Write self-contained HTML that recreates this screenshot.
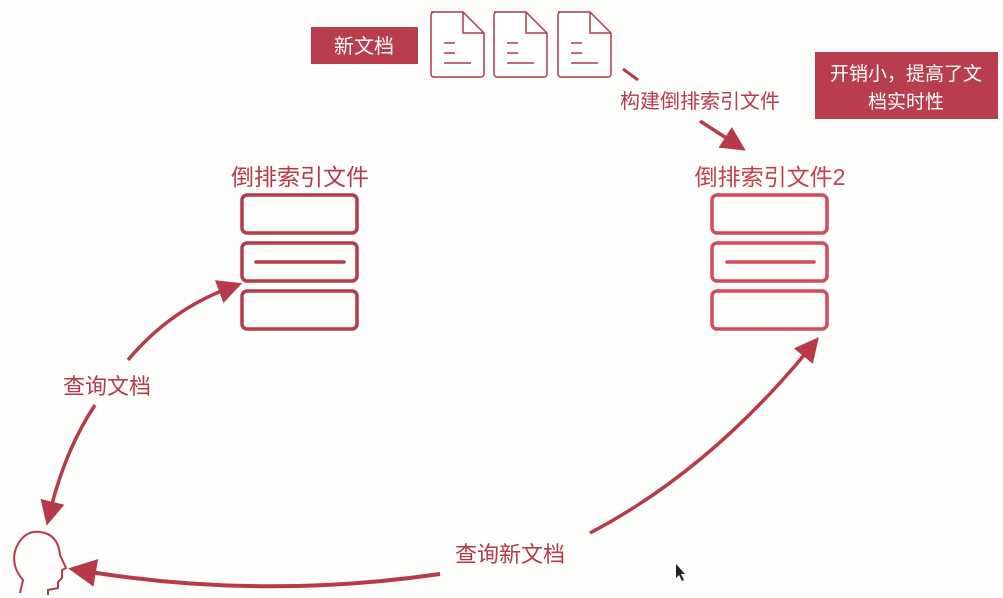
<!DOCTYPE html>
<html><head><meta charset="utf-8"><style>
body{margin:0;background:#fdfdfc;width:1003px;height:598px;overflow:hidden;font-family:"Liberation Sans","Noto Sans CJK SC",sans-serif}
</style></head><body>
<svg width="1003" height="598" viewBox="0 0 1003 598" xmlns="http://www.w3.org/2000/svg" style="position:absolute;left:0;top:0">
<defs>
<marker id="ah" markerWidth="7" markerHeight="7" refX="3" refY="3.5" orient="auto" markerUnits="strokeWidth"><path d="M0,0 L7,3.5 L0,7 z" fill="#b73a4b"/></marker>
</defs>
<rect x="311" y="27" width="107" height="37" fill="#b83d4d"/>
<text x="364" y="53" font-size="20" fill="#fff" text-anchor="middle">新文档</text>
<g fill="#fff" stroke="#b03848" stroke-width="1.5">
<path d="M431,12 h32 l21,21 v41 a3,3 0 0 1 -3,3 h-47 a3,3 0 0 1 -3,-3 v-59 a3,3 0 0 1 3,-3z"/>
<path d="M494,12 h32 l21,21 v41 a3,3 0 0 1 -3,3 h-47 a3,3 0 0 1 -3,-3 v-59 a3,3 0 0 1 3,-3z"/>
<path d="M558,12 h32 l21,21 v41 a3,3 0 0 1 -3,3 h-47 a3,3 0 0 1 -3,-3 v-59 a3,3 0 0 1 3,-3z"/>
<path d="M463,12 v21 h21 M526,12 v21 h21 M590,12 v21 h21" fill="none"/>
<path d="M444,43h11M444,53h11M444,63h27" fill="none"/>
<path d="M507,43h11M507,53h11M507,63h27" fill="none"/>
<path d="M571,43h11M571,53h11M571,63h27" fill="none"/>
</g>
<rect x="815" y="52" width="183" height="67" fill="#b83d4d"/>
<text x="906" y="80" font-size="19" fill="#fff" text-anchor="middle">开销小，提高了文</text>
<text x="906" y="108" font-size="19" fill="#fff" text-anchor="middle">档实时性</text>
<line x1="623" y1="69" x2="638" y2="80" stroke="#b73a4b" stroke-width="3"/>
<text x="700" y="108" font-size="20" fill="#b73a4b" text-anchor="middle">构建倒排索引文件</text>
<line x1="700" y1="121" x2="734" y2="143" stroke="#b73a4b" stroke-width="3.5" marker-end="url(#ah)"/>
<text x="300" y="185" font-size="23" fill="#b73a4b" text-anchor="middle">倒排索引文件</text>
<text x="770" y="185" font-size="23" fill="#c5404f" text-anchor="middle">倒排索引文件2</text>
<g fill="none" stroke="#b53a4c" stroke-width="3.5">
<rect x="242" y="195" width="115" height="38" rx="5"/>
<rect x="242" y="243" width="115" height="38" rx="5"/>
<rect x="242" y="291" width="115" height="38" rx="5"/>
<line x1="256" y1="262" x2="344" y2="262" stroke-linecap="round"/>
</g>
<g fill="none" stroke="#d24a5b" stroke-width="3.5">
<rect x="712" y="195" width="115" height="38" rx="5"/>
<rect x="712" y="243" width="115" height="38" rx="5"/>
<rect x="712" y="291" width="115" height="38" rx="5"/>
<line x1="727" y1="262" x2="814" y2="262" stroke-linecap="round"/>
</g>
<path d="M128,360 Q170,310 229,288" fill="none" stroke="#b73a4b" stroke-width="3.5" marker-end="url(#ah)"/>
<path d="M95,405 Q65,450 50,512" fill="none" stroke="#b73a4b" stroke-width="3.5" marker-end="url(#ah)"/>
<text x="107" y="394" font-size="22" fill="#b73a4b" text-anchor="middle">查询文档</text>
<path d="M590,533 Q710,470 810,348" fill="none" stroke="#b73a4b" stroke-width="3.5" marker-end="url(#ah)"/>
<path d="M440,574 Q260,600 84,571" fill="none" stroke="#b73a4b" stroke-width="4" marker-end="url(#ah)"/>
<text x="510" y="562" font-size="22" fill="#b73a4b" text-anchor="middle">查询新文档</text>
<path d="M20,593 L23,580 Q10,565 16,548 Q24,530 40,532 Q58,534 60,555 L66,568 L62,570 L62,578 L58,582 L58,588 L48,590 L48,595" fill="none" stroke="#b73a4b" stroke-width="2"/>
<path d="M676,564 l0,14 l3,-3 l3,6 l2,-1 l-3,-6 l4,0z" fill="#222"/>
</svg>
</body></html>
